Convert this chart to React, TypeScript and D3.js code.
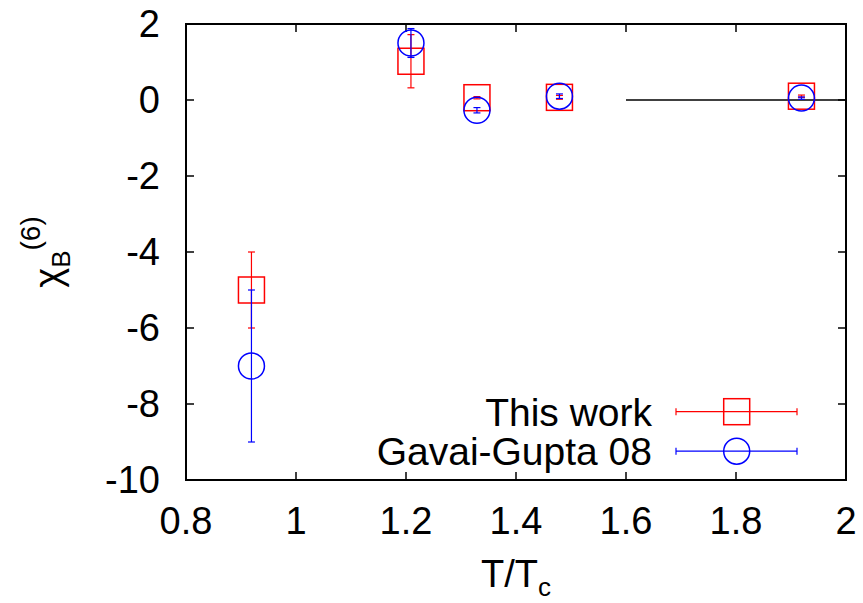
import React, { useRef, useEffect } from 'react';
import * as d3 from 'd3';

// T/Tc values for both data sets
const temps = [0.919, 1.209, 1.329, 1.479, 1.919];

const thisWork = [-5.0, 1.02, 0.06, 0.07, 0.1];
const thisWorkErr = [1.0, 0.7, 0.03, 0.05, 0.03];

const gavaiGupta = [-7.0, 1.5, -0.27, 0.1, 0.05];
const gavaiGuptaErr = [2.0, 0.38, 0.07, 0.06, 0.03];

const xTicks = [0.8, 1, 1.2, 1.4, 1.6, 1.8, 2];
const yTicks = [-10, -8, -6, -4, -2, 0, 2];

// Stefan-Boltzmann limit line
const limitX = [1.6, 2.0];
const limitY = 0;

const width = 863;
const height = 603;
const font = 'Liberation Sans, Arial, Helvetica, sans-serif';

const App = () => {
    const svgRef = useRef<SVGSVGElement | null>(null);

    useEffect(() => {
        const svg = d3.select(svgRef.current);
        svg.selectAll('*').remove();

        const margin = { top: 24, right: 17, bottom: 123, left: 186 };

        const x = d3.scaleLinear().domain([0.8, 2]).range([margin.left, width - margin.right]);
        const y = d3.scaleLinear().domain([-10, 2]).range([height - margin.bottom, margin.top]);

        const [x0, x1] = x.range();
        const [y0, y1] = y.range();
        const tickLen = 8;

        // ticks on all four sides, pointing inward
        const ticks = svg.append('g').attr('stroke', '#000').attr('stroke-width', 1.5);
        xTicks.forEach((t) => {
            ticks.append('line').attr('x1', x(t)).attr('x2', x(t)).attr('y1', y0).attr('y2', y0 - tickLen);
            ticks.append('line').attr('x1', x(t)).attr('x2', x(t)).attr('y1', y1).attr('y2', y1 + tickLen);
        });
        yTicks.forEach((t) => {
            ticks.append('line').attr('x1', x0).attr('x2', x0 + tickLen).attr('y1', y(t)).attr('y2', y(t));
            ticks.append('line').attr('x1', x1).attr('x2', x1 - tickLen).attr('y1', y(t)).attr('y2', y(t));
        });

        svg.append('g')
            .attr('font-family', font)
            .attr('font-size', 38)
            .attr('text-anchor', 'middle')
            .selectAll('text')
            .data(xTicks)
            .join('text')
            .attr('x', (d) => x(d))
            .attr('y', y0 + 54)
            .text((d) => String(d));

        svg.append('g')
            .attr('font-family', font)
            .attr('font-size', 38)
            .attr('text-anchor', 'end')
            .selectAll('text')
            .data(yTicks)
            .join('text')
            .attr('x', x0 - 26)
            .attr('y', (d) => y(d) + 13.4)
            .text((d) => String(d));

        // limit line
        svg.append('line')
            .attr('x1', x(limitX[0]))
            .attr('x2', x(limitX[1]))
            .attr('y1', y(limitY))
            .attr('y2', y(limitY))
            .attr('stroke', '#000')
            .attr('stroke-width', 1.5);

        const cap = 3.5;
        const series = [
            { vals: thisWork, errs: thisWorkErr, color: '#ff0000', shape: 'square' },
            { vals: gavaiGupta, errs: gavaiGuptaErr, color: '#0000ff', shape: 'circle' },
        ];

        const drawMarker = (g: d3.Selection<SVGGElement, unknown, null, undefined>, shape: string, cx: number, cy: number, color: string) => {
            if (shape === 'square') {
                g.append('rect')
                    .attr('x', cx - 13)
                    .attr('y', cy - 13)
                    .attr('width', 26)
                    .attr('height', 26)
                    .attr('fill', 'none')
                    .attr('stroke', color)
                    .attr('stroke-width', 1.5);
            } else {
                g.append('circle')
                    .attr('cx', cx)
                    .attr('cy', cy)
                    .attr('r', 13)
                    .attr('fill', 'none')
                    .attr('stroke', color)
                    .attr('stroke-width', 1.5);
            }
        };

        series.forEach((s) => {
            const g = svg.append('g').attr('stroke', s.color).attr('stroke-width', 1.2);
            temps.forEach((t, i) => {
                const cx = x(t);
                const top = y(s.vals[i] + s.errs[i]);
                const bot = y(s.vals[i] - s.errs[i]);
                g.append('line').attr('x1', cx).attr('x2', cx).attr('y1', top).attr('y2', bot);
                g.append('line').attr('x1', cx - cap).attr('x2', cx + cap).attr('y1', top).attr('y2', top);
                g.append('line').attr('x1', cx - cap).attr('x2', cx + cap).attr('y1', bot).attr('y2', bot);
                drawMarker(g, s.shape, cx, y(s.vals[i]), s.color);
            });
        });

        // legend
        const legend = [
            { label: 'This work', color: '#ff0000', shape: 'square' },
            { label: 'Gavai-Gupta 08', color: '#0000ff', shape: 'circle' },
        ];
        legend.forEach((l, i) => {
            const ly = 411.7 + i * 39.5;
            const g = svg.append('g').attr('stroke', l.color).attr('stroke-width', 1.2);
            g.append('line').attr('x1', 676).attr('x2', 797).attr('y1', ly).attr('y2', ly);
            g.append('line').attr('x1', 676).attr('x2', 676).attr('y1', ly - cap).attr('y2', ly + cap);
            g.append('line').attr('x1', 797).attr('x2', 797).attr('y1', ly - cap).attr('y2', ly + cap);
            drawMarker(g, l.shape, 736.7, ly, l.color);
            svg.append('text')
                .attr('x', 652)
                .attr('y', ly + 14)
                .attr('text-anchor', 'end')
                .attr('font-family', font)
                .attr('font-size', 39)
                .text(l.label);
        });

        // frame
        svg.append('rect')
            .attr('x', x0)
            .attr('y', y1)
            .attr('width', x1 - x0)
            .attr('height', y0 - y1)
            .attr('fill', 'none')
            .attr('stroke', '#000')
            .attr('stroke-width', 2);

        // axis labels
        const xl = svg.append('text')
            .attr('x', (x0 + x1) / 2)
            .attr('y', 587)
            .attr('text-anchor', 'middle')
            .attr('font-family', font)
            .attr('font-size', 38);
        xl.append('tspan').text('T/T');
        xl.append('tspan').attr('dy', 9).attr('font-size', 26).text('c');

        const yl = svg.append('text')
            .attr('transform', `translate(61,${(y0 + y1) / 2}) rotate(-90)`)
            .attr('text-anchor', 'middle')
            .attr('font-family', font)
            .attr('font-size', 38);
        yl.append('tspan').text('χ');
        yl.append('tspan').attr('dy', 9).attr('font-size', 26).text('B');
        yl.append('tspan').attr('dy', -30).attr('font-size', 28).text('(6)');
    }, []);

    return (
        <svg
            ref={svgRef}
            width={width}
            height={height}
            style={{ position: 'absolute', left: 0, top: 0, background: '#fff' }}
        ></svg>
    );
};

export default App;
